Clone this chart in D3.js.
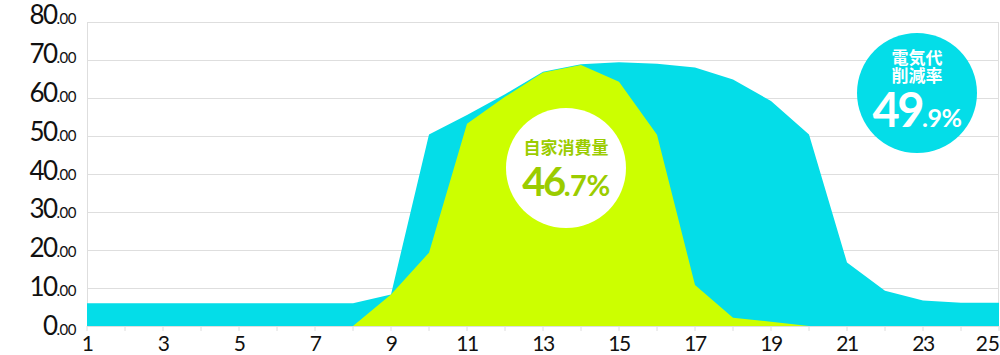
<!DOCTYPE html>
<html>
<head>
<meta charset="utf-8">
<script src="https://cdn.jsdelivr.net/npm/d3@7"></script>
<style>
  html, body { margin: 0; padding: 0; background: #fff; }
  svg { display: block; }
  .num { font-family: Lato, "Open Sans", sans-serif; }
  .jp { font-family: "Noto Sans CJK JP", sans-serif; font-weight: 700; }
</style>
</head>
<body>
<div id="chart"></div>
<script>
// hours on the x axis
const hours = [1, 2, 3, 4, 5, 6, 7, 8, 9, 10, 11, 12, 13, 14, 15, 16, 17, 18, 19, 20, 21, 22, 23, 24, 25];
// cyan area (usage) and lime area (self consumption)
const usage = [6, 6, 6, 6, 6, 6, 6, 6, 8.3, 50.4, 55.5, 61, 66.9, 68.9, 69.4, 69, 68, 64.9, 59.2, 50.4, 16.7, 9.3, 6.7, 6.1, 6.1];
const selfUse = [null, null, null, null, null, null, null, 0, 8.3, 19.3, 53.2, 60.3, 66.7, 68.7, 64.3, 50.3, 10.8, 2.2, 1.1, 0, null, null, null, null, null];
const yTicks = [0, 10, 20, 30, 40, 50, 60, 70, 80];
const xLabels = [1, 3, 5, 7, 9, 11, 13, 15, 17, 19, 21, 23, 25];

const width = 1000, height = 355;
const cyan = '#04dde8', lime = '#ccff00', grid = '#dedede';

const svg = d3.select('#chart').append('svg')
  .attr('width', width)
  .attr('height', height);

const x = d3.scaleLinear().domain([1, 25]).range([87, 999]);
const y = d3.scaleLinear().domain([0, 80]).range([326, 22]);
// tick labels sit on a slightly looser spacing than the grid
const yLabel = d3.scaleLinear().domain([0, 80]).range([335, 24]);

// grid lines
svg.append('g')
  .selectAll('line')
  .data(yTicks)
  .join('line')
  .attr('x1', x(1)).attr('x2', x(25))
  .attr('y1', d => y(d) + 0.5).attr('y2', d => y(d) + 0.5)
  .attr('stroke', grid);

// frame sides
svg.append('line')
  .attr('x1', x(1) + 0.5).attr('x2', x(1) + 0.5)
  .attr('y1', y(80)).attr('y2', y(0))
  .attr('stroke', grid);
svg.append('line')
  .attr('x1', x(25) - 0.5).attr('x2', x(25) - 0.5)
  .attr('y1', y(80)).attr('y2', y(0))
  .attr('stroke', grid);

// areas
const area = d3.area()
  .defined(d => d[1] !== null)
  .x(d => x(d[0]))
  .y0(y(0))
  .y1(d => y(d[1]));

svg.append('path')
  .datum(hours.map((h, i) => [h, usage[i]]))
  .attr('d', area)
  .attr('fill', cyan);

svg.append('path')
  .datum(hours.map((h, i) => [h, selfUse[i]]))
  .attr('d', area)
  .attr('fill', lime);

// x ticks
svg.append('g')
  .selectAll('line')
  .data(hours)
  .join('line')
  .attr('x1', d => x(d)).attr('x2', d => x(d))
  .attr('y1', y(0)).attr('y2', y(0) + 5)
  .attr('stroke', grid);

const last = xLabels[xLabels.length - 1];
svg.append('g')
  .selectAll('text')
  .data(xLabels)
  .join('text')
  .attr('class', 'num')
  .attr('x', d => d === last ? width : x(d))
  .attr('y', 351)
  .attr('text-anchor', d => d === last ? 'end' : 'middle')
  .attr('font-size', 21)
  .attr('letter-spacing', d => d === last ? 0 : -1.5)
  .attr('fill', '#111')
  .text(d => d);

// y labels: big integer + small ".00"
const yl = svg.append('g')
  .selectAll('text')
  .data(yTicks)
  .join('text')
  .attr('class', 'num')
  .attr('x', 76)
  .attr('y', d => yLabel(d))
  .attr('text-anchor', 'end')
  .attr('fill', '#111');
yl.append('tspan')
  .attr('font-size', 26)
  .attr('letter-spacing', -1.5)
  .text(d => d);
yl.append('tspan')
  .attr('font-size', 15)
  .attr('letter-spacing', -0.5)
  .text('.00');

// badges
const badge = (cx, cy, bg, fg, lines, firstY, big, small, numY, bigSize, smallSize) => {
  const g = svg.append('g');
  g.append('circle')
    .attr('cx', cx).attr('cy', cy).attr('r', 60)
    .attr('fill', bg);
  const caption = g.append('text')
    .attr('class', 'jp')
    .attr('y', firstY)
    .attr('text-anchor', 'middle')
    .attr('font-size', 17)
    .attr('fill', fg);
  lines.forEach((t, i) => {
    caption.append('tspan')
      .attr('x', cx)
      .attr('dy', i === 0 ? 0 : 18)
      .text(t);
  });
  const num = g.append('text')
    .attr('class', 'num')
    .attr('x', cx).attr('y', numY)
    .attr('text-anchor', 'middle')
    .attr('font-weight', 700)
    .attr('fill', fg);
  num.append('tspan').attr('font-size', bigSize).attr('letter-spacing', -2.5).text(big);
  num.append('tspan').attr('font-size', smallSize).attr('letter-spacing', -0.5).text(small);
};

badge(566, 168, '#fff', '#9bcc00', ['自家消費量'], 154, '46', '.7%', 196, 40, 29);
badge(917, 93, cyan, '#fff', ['電気代', '削減率'], 64, '49', '.9%', 127, 47, 25);
</script>
</body>
</html>
